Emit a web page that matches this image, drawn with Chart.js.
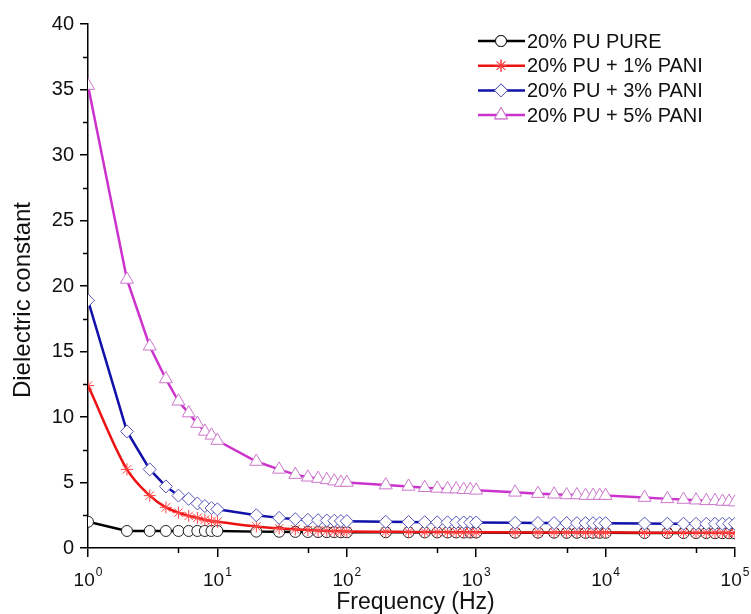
<!DOCTYPE html>
<html>
<head>
<meta charset="utf-8">
<script src="https://cdn.jsdelivr.net/npm/chart.js@4.4.1/dist/chart.umd.min.js"></script>
<style>
  html, body { margin: 0; padding: 0; background: #fff; }
  #wrap { width: 751px; height: 614px; position: relative; }
</style>
</head>
<body>
<div id="wrap"><canvas id="c" width="751" height="614"></canvas></div>
<script>
// ---------- data ----------
const frequency = [1,2,3,4,5,6,7,8,9,10,20,30,40,50,60,70,80,90,100,200,300,400,500,600,700,800,900,1000,2000,3000,4000,5000,6000,7000,8000,9000,10000,20000,30000,40000,50000,60000,70000,80000,90000,100000];

const puPure = [2.0,1.3,1.3,1.3,1.3,1.3,1.3,1.3,1.3,1.3, 1.25,1.24,1.23,1.22,1.22,1.21,1.21,1.2,1.2, 1.2,1.2,1.19,1.19,1.19,1.19,1.18,1.18,1.18, 1.17,1.17,1.17,1.16,1.16,1.16,1.16,1.16,1.16, 1.15,1.15,1.14,1.14,1.14,1.13,1.13,1.13,1.12];
const pu1Pani = [12.4,6.0,4.0,3.1,2.7,2.45,2.3,2.15,2.05,2.0, 1.65,1.5,1.42,1.37,1.33,1.3,1.28,1.27,1.26, 1.24,1.23,1.22,1.22,1.21,1.21,1.2,1.2,1.2, 1.19,1.19,1.19,1.18,1.18,1.18,1.18,1.18,1.18, 1.17,1.17,1.17,1.16,1.16,1.16,1.16,1.15,1.15];
const pu3Pani = [18.9,8.9,6.0,4.7,4.0,3.75,3.4,3.2,3.05,2.95, 2.5,2.3,2.2,2.15,2.12,2.1,2.08,2.06,2.05, 2.0,1.98,1.97,1.96,1.96,1.95,1.95,1.95,1.95, 1.92,1.91,1.9,1.9,1.9,1.9,1.89,1.89,1.89, 1.87,1.86,1.86,1.85,1.85,1.85,1.85,1.85,1.85];
const pu5Pani = [35.3,20.5,15.4,12.9,11.2,10.3,9.5,8.9,8.6,8.2, 6.6,6.0,5.6,5.4,5.3,5.2,5.1,5.0,5.0, 4.8,4.7,4.6,4.55,4.5,4.5,4.45,4.45,4.4, 4.25,4.15,4.1,4.05,4.05,4.0,4.0,4.0,4.0, 3.85,3.75,3.7,3.65,3.6,3.6,3.55,3.55,3.5];

const seriesLabels = ['20% PU PURE', '20% PU + 1% PANI', '20% PU + 3% PANI', '20% PU + 5% PANI'];

const xMajorTicks = [1,10,100,1000,10000,100000];
const xTickExponents = ['0','1','2','3','4','5'];
const xMinorTicks = [5,50,500,5000,50000];
const yMinorTicks = [2.5,7.5,12.5,17.5,22.5,27.5,32.5,37.5];

const xTitle = 'Frequency (Hz)';
const yTitle = 'Dielectric constant';

// ---------- styling ----------
const FONT = "'Liberation Sans', Arial, sans-serif";
const styles = [
  { line: '#000000', border: '#222222', pointStyle: 'circle', radius: 5.5 },
  { line: '#ee1111', border: '#ff4444', pointStyle: 'star', radius: 6 },
  { line: '#1111aa', border: '#5555bb', pointStyle: 'rectRot', radius: 6.5 },
  { line: '#cc33cc', border: '#cc77cc', pointStyle: 'triangle', radius: 7.5 }
];
const seriesValues = [puPure, pu1Pani, pu3Pani, pu5Pani];

const datasets = seriesValues.map((vals, i) => ({
  label: seriesLabels[i],
  data: frequency.map((f, k) => ({ x: f, y: vals[k] })),
  borderColor: styles[i].line,
  borderWidth: 2.5,
  pointStyle: styles[i].pointStyle,
  pointRadius: styles[i].radius,
  pointBorderColor: styles[i].border,
  pointBackgroundColor: '#ffffff',
  pointBorderWidth: 1,
  cubicInterpolationMode: i === 1 ? 'monotone' : 'default',
  tension: i === 1 ? 0.4 : 0,
  order: [3, 2, 1, 0][i],
  fill: false
}));

const extras = {
  id: 'extras',
  afterDraw(chart) {
    const ctx = chart.ctx;
    const xs = chart.scales.x, ys = chart.scales.y;
    const area = chart.chartArea;
    ctx.save();
    ctx.strokeStyle = '#000';
    ctx.lineWidth = 1.5;
    // minor ticks
    ctx.beginPath();
    xMinorTicks.forEach(v => {
      const px = Math.round(xs.getPixelForValue(v)) + 0.5;
      ctx.moveTo(px, area.bottom);
      ctx.lineTo(px, area.bottom + 5);
    });
    yMinorTicks.forEach(v => {
      const py = Math.round(ys.getPixelForValue(v)) + 0.5;
      ctx.moveTo(area.left, py);
      ctx.lineTo(area.left - 5, py);
    });
    ctx.stroke();

    // x tick labels with superscript
    ctx.fillStyle = '#111';
    ctx.textBaseline = 'alphabetic';
    xMajorTicks.forEach((v, i) => {
      const px = xs.getPixelForValue(v);
      ctx.font = '19px ' + FONT;
      const bw = ctx.measureText('10').width;
      ctx.font = '12px ' + FONT;
      const ew = ctx.measureText(xTickExponents[i]).width;
      const total = bw + ew + 1;
      const x0 = px - total / 2;
      ctx.font = '19px ' + FONT;
      ctx.textAlign = 'left';
      ctx.fillText('10', x0, 586);
      ctx.font = '12px ' + FONT;
      ctx.fillText(xTickExponents[i], x0 + bw + 1, 576);
    });

    // axis titles
    ctx.font = '23px ' + FONT;
    ctx.textAlign = 'center';
    ctx.fillText(xTitle, (area.left + area.right) / 2 + 4, 609);
    ctx.save();
    ctx.translate(30, 300);
    ctx.rotate(-Math.PI / 2);
    ctx.font = '24px ' + FONT;
    ctx.textAlign = 'center';
    ctx.fillText(yTitle, 0, 0);
    ctx.restore();

    // legend
    chart.data.datasets.forEach((ds, i) => {
      const y = 41 + i * 24.7;
      ctx.strokeStyle = ds.borderColor;
      ctx.lineWidth = 2.5;
      ctx.beginPath();
      ctx.moveTo(478, y);
      ctx.lineTo(525, y);
      ctx.stroke();
      ctx.lineWidth = 1;
      Chart.helpers.drawPoint(ctx, {
        pointStyle: ds.pointStyle,
        radius: ds.pointRadius,
        rotation: 0,
        borderWidth: 1
      }, 501, y);
      ctx.fillStyle = '#ffffff';
      ctx.strokeStyle = ds.pointBorderColor;
      Chart.helpers.drawPoint(ctx, {
        pointStyle: ds.pointStyle,
        radius: ds.pointRadius,
        rotation: 0,
        borderWidth: 1
      }, 501, y);
      ctx.fillStyle = '#111';
      ctx.font = '20px ' + FONT;
      ctx.textAlign = 'left';
      ctx.textBaseline = 'middle';
      ctx.fillText(ds.label, 527, y + 1);
    });
    ctx.restore();
  }
};

new Chart(document.getElementById('c'), {
  type: 'line',
  data: { datasets },
  plugins: [extras],
  options: {
    responsive: false,
    animation: false,
    devicePixelRatio: 1,
    layout: { padding: { top: 24, right: 16, left: 0, bottom: 0 } },
    plugins: { legend: { display: false }, tooltip: { enabled: false } },
    scales: {
      x: {
        type: 'logarithmic',
        min: 1,
        max: 100000,
        afterBuildTicks: s => { s.ticks = xMajorTicks.map(v => ({ value: v, major: true })); },
        afterFit: s => { s.height = 66; },
        ticks: { display: false },
        grid: { drawOnChartArea: false, drawTicks: true, tickLength: 9, color: '#000', lineWidth: 1.5 },
        border: { display: true, color: '#000', width: 1.5 }
      },
      y: {
        type: 'linear',
        min: 0,
        max: 40,
        afterFit: s => { s.width = 88; },
        ticks: { stepSize: 5, padding: 6, color: '#111', font: { family: FONT, size: 20 } },
        grid: { drawOnChartArea: false, drawTicks: true, tickLength: 8, color: '#000', lineWidth: 1.5 },
        border: { display: true, color: '#000', width: 1.5 }
      }
    }
  }
});
</script>
</body>
</html>
